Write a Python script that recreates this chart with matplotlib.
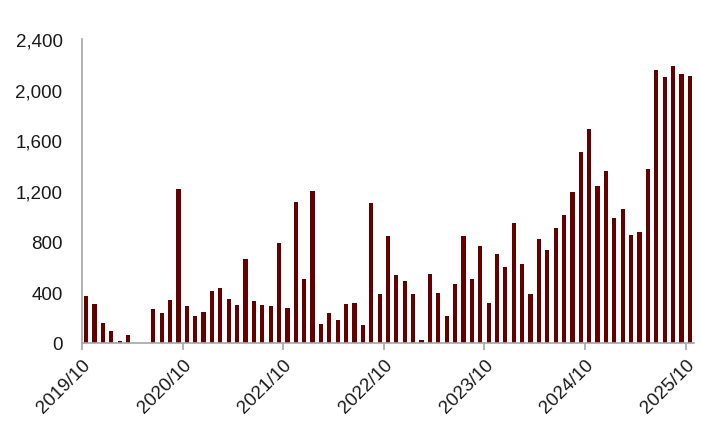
import numpy as np
import matplotlib
matplotlib.use("Agg")
import matplotlib.pyplot as plt
from matplotlib.ticker import FuncFormatter
from matplotlib.transforms import ScaledTranslation

plt.rcParams['font.family'] = ['Liberation Sans', 'DejaVu Sans']

# monthly values, 2019/10 .. 2025/10
months = []
for y in range(2019, 2026):
    for m in range(1, 13):
        if (y, m) >= (2019, 10) and (y, m) <= (2025, 10):
            months.append(f"{y}/{m:02d}")

values = [369, 305, 161, 95, 16, 66, 0, 0, 268, 237, 337, 1216,
          290, 216, 245, 411, 434, 347, 303, 661, 329, 297, 290, 790,
          279, 1116, 505, 1200, 147, 239, 184, 308, 318, 142, 1108, 384,
          845, 534, 487, 387, 24, 545, 395, 216, 468, 845, 503, 766,
          316, 705, 597, 947, 621, 387, 818, 732, 911, 1011, 1190, 1508,
          1690, 1237, 1358, 987, 1058, 853, 874, 1374, 2155, 2097, 2187, 2121,
          2110]

tick_labels = ["2019/10", "2020/10", "2021/10", "2022/10", "2023/10", "2024/10", "2025/10"]

fig = plt.figure(figsize=(7.01, 4.31), dpi=100)
ax = fig.add_axes([0.117, 0.202, 0.873, 0.705])

x = np.arange(len(values))
ax.bar(x, values, width=0.5, color='#650000')

ax.set_xlim(-0.5, len(values) - 0.5)
ax.set_ylim(0, 2400)
ax.set_yticks(np.arange(0, 2401, 400))
ax.yaxis.set_major_formatter(FuncFormatter(lambda v, p: f"{int(v):,}"))

tick_pos = [months.index(t) - 0.5 for t in tick_labels]
ax.set_xticks(tick_pos)
ax.set_xticklabels(tick_labels, rotation=45, ha='right', va='top',
                   rotation_mode='anchor')
# nudge rotated labels so their ends sit just right of / below the ticks
shift = ScaledTranslation(0.08, -0.07, fig.dpi_scale_trans)
for lab in ax.get_xticklabels():
    lab.set_transform(lab.get_transform() + shift)

for s in ['top', 'right']:
    ax.spines[s].set_visible(False)
for s in ['left', 'bottom']:
    ax.spines[s].set_color('#a6a6a6')
    ax.spines[s].set_linewidth(1.2)

ax.tick_params(axis='y', length=0, labelsize=13.5, pad=14, colors='#1a1a1a')
ax.tick_params(axis='x', length=5, width=1.2, color='#a6a6a6',
               labelsize=13.5, pad=4, labelcolor='#1a1a1a')

fig.savefig("out.png", dpi=100)
